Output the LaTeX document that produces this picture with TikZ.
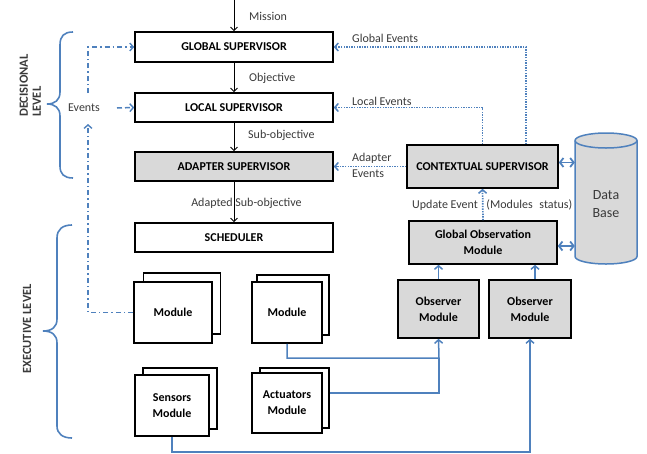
\documentclass[tikz,border=0pt]{standalone}
\usepackage{fontspec}
\setmainfont{Carlito}
\usetikzlibrary{arrows.meta}
\definecolor{bl}{HTML}{4F81BD}
\definecolor{gf}{HTML}{D9D9D9}
\definecolor{tx}{HTML}{3A3A3A}
\begin{document}
\begin{tikzpicture}[x=1pt,y=-1pt,
  box/.style={draw=black, line width=1.6pt, fill=white, font=\fontsize{12}{16}\selectfont\bfseries, align=center, inner sep=0pt},
  gbox/.style={box, fill=gf},
  lbl/.style={font=\fontsize{12}{16}\selectfont, text=tx, inner sep=0pt, align=left},
  lvl/.style={font=\fontsize{12.5}{13}\selectfont\bfseries, text=tx, inner sep=0pt, rotate=90, align=left},
  blk/.style={draw=black, line width=0.9pt, -{Straight Barb[length=3.5pt,width=7pt]}},
  dotar/.style={draw=bl, line width=1.7pt, dash pattern=on 1.4pt off 1.2pt, -{Straight Barb[length=3.5pt,width=8pt,line width=1.5pt]}},
  dashdot/.style={draw=bl, line width=1.5pt, dash pattern=on 5pt off 3pt on 1.5pt off 3pt},
  dashar/.style={dashdot, -{Straight Barb[length=3.5pt,width=8pt,line width=1.4pt]}},
  solar/.style={draw=bl, line width=1.5pt, -{Straight Barb[length=3.5pt,width=8pt,line width=1.5pt]}},
  dbar/.style={draw=bl, line width=1.8pt, {Straight Barb[length=3.5pt,width=9pt,line width=1.8pt]}-{Straight Barb[length=3.5pt,width=9pt,line width=1.8pt]}},
  brc/.style={draw=bl, line width=1.6pt}
]
\useasboundingbox (0,0) rectangle (647,453);

% supervisors
\node[box, minimum width=198pt, minimum height=30pt] (gs) at (234,47) {GLOBAL SUPERVISOR};
\node[box, minimum width=198pt, minimum height=29pt] (ls) at (234,107.5) {LOCAL SUPERVISOR};
\node[gbox, minimum width=198pt, minimum height=29pt] (as) at (234,166.5) {ADAPTER SUPERVISOR};
\node[box, minimum width=198pt, minimum height=29pt] (sch) at (234,237.5) {SCHEDULER};

% module stacks
\node[box, minimum width=77pt, minimum height=61pt] (m1b) at (182,303.5) {};
\node[box, minimum width=78pt, minimum height=61pt] (m1) at (173,312.5) {Module};
\node[box, minimum width=72pt, minimum height=60pt] (m2b) at (293,305) {};
\node[box, minimum width=70pt, minimum height=61pt] (m2) at (287,312.5) {Module};
\node[box, minimum width=74pt, minimum height=61pt] (senb) at (180,398.5) {};
\node[box, minimum width=74pt, minimum height=61pt] (sen) at (172,405.5) {Sensors\\Module};
\node[box, minimum width=69pt, minimum height=60pt] (actb) at (294.5,398) {};
\node[box, minimum width=70pt, minimum height=60pt] (act) at (287,403) {Actuators\\Module};

% right side
\node[gbox, minimum width=151pt, minimum height=43pt] (ctx) at (482.5,166.5) {CONTEXTUAL SUPERVISOR};
\node[gbox, minimum width=148pt, minimum height=43pt] (gobs) at (483,242.5) {Global Observation\\Module};
\node[gbox, minimum width=81pt, minimum height=58pt] (obs1) at (438.5,309) {Observer\\Module};
\node[gbox, minimum width=82pt, minimum height=58pt] (obs2) at (530,309) {Observer\\Module};

% database cylinder
\path[fill=gf, draw=bl, line width=1.5pt] (575,140.5) -- (575,256.5) arc (180:0:31 and 7.5) -- (637,140.5) arc (0:-180:31 and 7.5) -- cycle;
\draw[bl, line width=1.5pt] (575,140.5) arc (180:0:31 and 7.5);
\node[minimum width=62pt, minimum height=131pt, inner sep=0pt] (db) at (606,198.5) {};
\node[lbl, align=center, font=\fontsize{14}{18}\selectfont] (dbt) at (606,204) {Data\\Base};

% black flow
\coordinate (top) at (234,0);
\draw[blk] (top) -- (gs.north);
\draw[blk] (gs.south) -- (ls.north);
\draw[blk] (ls.south) -- (as.north);
\draw[blk] (as.south) -- (sch.north);
\node[lbl, anchor=west] (lmis) at (249,16) {Mission};
\node[lbl, anchor=west] (lobj) at (249,78) {Objective};
\node[lbl, anchor=west] (lsub) at (248,135) {Sub-objective};
\node[lbl] (lad) at (246.5,203) {Adapted Sub-objective};

% contextual events
\draw[dotar] ([xshift=43.5pt]ctx.north) |- (gs.east);
\draw[dotar] (ctx.north) |- (ls.east);
\draw[dotar] (ctx.west) -- (as.east);
\draw[dotar] (gobs.north) -- (ctx.south);
\node[lbl, anchor=west] (lge) at (352,38) {Global Events};
\node[lbl, anchor=west] (lle) at (352,101) {Local Events};
\node[lbl, anchor=west] (lae) at (352,165) {Adapter\\Events};
\node[lbl, anchor=west] (lup) at (412,205) {Update Event\hspace{6pt} (Modules\hspace{4pt} status)};

% database links
\draw[dbar] ([yshift=4pt]ctx.east) -- ([yshift=4pt]ctx.east -| db.west);
\draw[dbar] ([yshift=-3.5pt]gobs.east) -- ([yshift=-3.5pt]gobs.east -| db.west);

% observers
\draw[solar] (obs1.north) -- (obs1.north |- gobs.south);
\draw[solar] ([xshift=5pt]obs2.north) -- ([xshift=5pt]obs2.north |- gobs.south);
\coordinate (j1) at (439,358);
\draw[solar] (m2.south) |- (j1) -- (obs1.south);
\draw[draw=bl, line width=1.5pt] ([yshift=5pt]actb.east) -| (j1);
\draw[solar] (sen.south) -- ++(0,15) -| (obs2.south);

% events
\node[lbl, text=tx] (ev) at (84,108) {Events};
\coordinate (evb) at (88,124);
\coordinate (evt) at (88,93);
\coordinate (evr) at (117,108);
\draw[dashar] (m1.west) -| (evb);
\draw[dashar] (evt) |- (gs.west);
\draw[dashar, dash pattern=on 5pt off 3pt] (evr) -- (ls.west);

% braces
\draw[brc] (73,32) .. controls (64,32) and (60,36) .. (60,45) -- (60,92) .. controls (60,100) and (55,104) .. (47,104) .. controls (55,104) and (60,108) .. (60,116) -- (60,166) .. controls (60,174) and (64,178) .. (73,178);
\draw[brc] (72,225) .. controls (63,225) and (57,229) .. (57,238) -- (57,319) .. controls (57,327) and (52,331) .. (43,331) .. controls (52,331) and (57,335) .. (57,343) -- (57,426) .. controls (57,434) and (63,438) .. (72,438);
\node[lvl, anchor=south west] (ldec) at (41,117) {DECISIONAL\\LEVEL};
\node[lvl] (lexe) at (27,329) {EXECUTIVE LEVEL};
\end{tikzpicture}
\end{document}
